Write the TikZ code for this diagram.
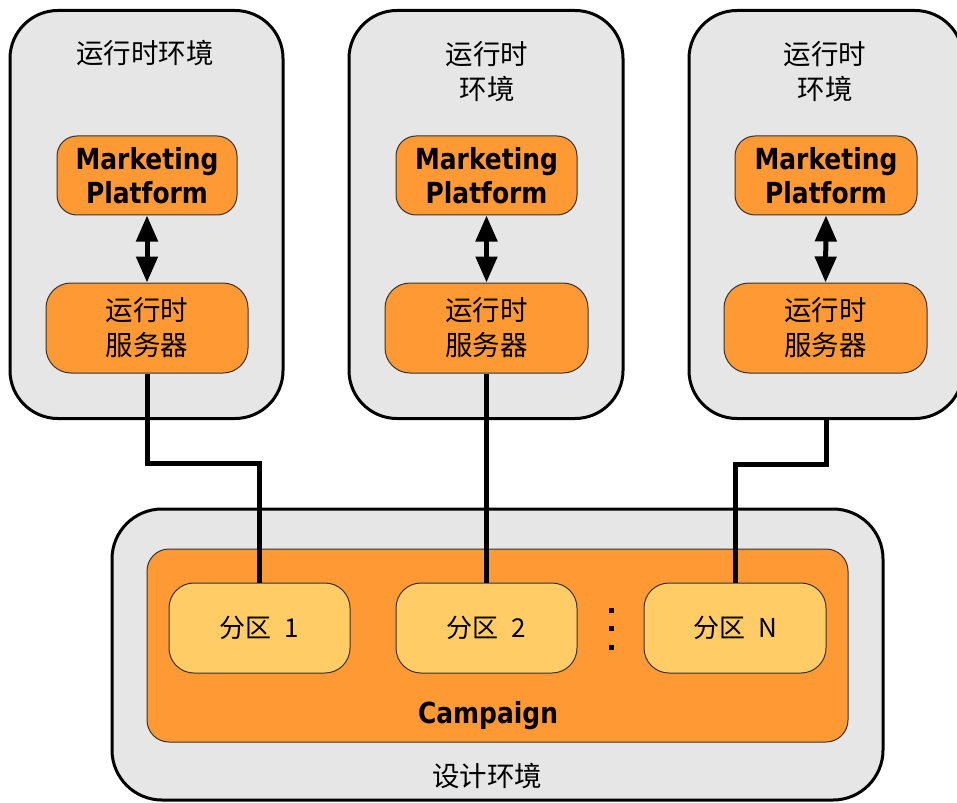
\documentclass[tikz,border=0pt]{standalone}
\usepackage{fontspec}
\usetikzlibrary{arrows.meta}
\newfontfamily\cjk{Noto Sans CJK SC}
\newfontfamily\boldsans[FakeStretch=0.86]{DejaVu Sans Bold}
\definecolor{envgray}{HTML}{E6E6E6}
\definecolor{orng}{HTML}{FF9933}
\definecolor{lightorng}{HTML}{FFCC66}
\tikzset{
  envbox/.style={draw=black, line width=3pt, fill=envgray, rounded corners=48pt, inner sep=0pt},
  orangebox/.style={draw=black!80, line width=1pt, fill=orng, rounded corners=#1, inner sep=0pt},
  partbox/.style={draw=black!80, line width=1pt, fill=lightorng, rounded corners=25pt, inner sep=0pt,
     minimum height=90pt, font=\cjk\fontsize{26}{30}\selectfont},
  cjklabel/.style={align=center, inner sep=0pt, font=\cjk\fontsize{27.5}{35}\selectfont},
  mplabel/.style={align=center, inner sep=0pt, font=\boldsans\fontsize{29}{34}\selectfont},
  conn/.style={line width=5pt, line join=miter, line cap=butt},
  dblarrow/.style={line width=5pt, {Triangle[width=21pt,length=26pt]}-{Triangle[width=21pt,length=26pt]}},
  dotsq/.style={fill=black, minimum size=5pt, inner sep=0pt}
}
\begin{document}
\begin{tikzpicture}[x=1pt,y=-1pt]
\useasboundingbox (0,0) rectangle (957,802);
% runtime environments
\node[envbox, minimum width=273pt, minimum height=408pt] (envL) at (146.5,214.5) {};
\node[envbox, minimum width=274pt, minimum height=408pt] (envM) at (486,214.5) {};
\node[envbox, minimum width=274pt, minimum height=408pt] (envR) at (826,214.5) {};
\node[cjklabel] (tL) at (145,53) {运行时环境};
\node[cjklabel] (tM) at (487,72) {运行时\\环境};
\node[cjklabel] (tR) at (825,72) {运行时\\环境};
% marketing platform boxes
\node[orangebox=20pt, minimum width=180pt, minimum height=79pt] (mpL) at (147,175.5) {};
\node[orangebox=20pt, minimum width=181pt, minimum height=79pt] (mpM) at (486.5,175.5) {};
\node[orangebox=20pt, minimum width=182pt, minimum height=79pt] (mpR) at (826,175.5) {};
\node[mplabel] at (mpL) {Marketing\\Platform};
\node[mplabel] at (mpM) {Marketing\\Platform};
\node[mplabel] at (mpR) {Marketing\\Platform};
% runtime servers
\node[orangebox=25pt, minimum width=202pt, minimum height=90pt] (srvL) at (147,328) {};
\node[orangebox=25pt, minimum width=203pt, minimum height=90pt] (srvM) at (486.5,328) {};
\node[orangebox=25pt, minimum width=203pt, minimum height=90pt] (srvR) at (825.5,328) {};
\node[cjklabel] at (srvL) {运行时\\服务器};
\node[cjklabel] at (srvM) {运行时\\服务器};
\node[cjklabel] at (srvR) {运行时\\服务器};
% arrows
\draw[dblarrow] (mpL.south) -- (srvL.north);
\draw[dblarrow] (mpM.south) -- (srvM.north);
\draw[dblarrow] (mpR.south) -- (srvR.north);
% design environment
\node[envbox, rounded corners=50pt, minimum width=771pt, minimum height=291pt] (design) at (497.5,654.5) {};
\node[orangebox=22pt, minimum width=701pt, minimum height=193pt] (camp) at (497.5,645.5) {};
\node[partbox, minimum width=181pt] (p1) at (259.5,628) {分区\hspace{0.5em}1};
\node[partbox, minimum width=181pt] (p2) at (486.5,628) {分区\hspace{0.5em}2};
\node[partbox, minimum width=182pt] (pN) at (735,628) {分区\hspace{0.5em}N};
\node[dotsq] (d1) at (611,610) {};
\node[dotsq] (d2) at (611,628.5) {};
\node[dotsq] (d3) at (611,647) {};
\node[mplabel] (campl) at (488,716) {Campaign};
\node[cjklabel] (designl) at (487,776) {设计环境};
% connectors
\coordinate (jL) at (147,463);
\coordinate (jR) at (826,464);
\draw[conn] (srvL.south) -- (jL) -| (p1.north);
\draw[conn] (srvM.south) -- (p2.north);
\draw[conn] (envR.south) -- (jR) -| (pN.north);
\end{tikzpicture}
\end{document}
